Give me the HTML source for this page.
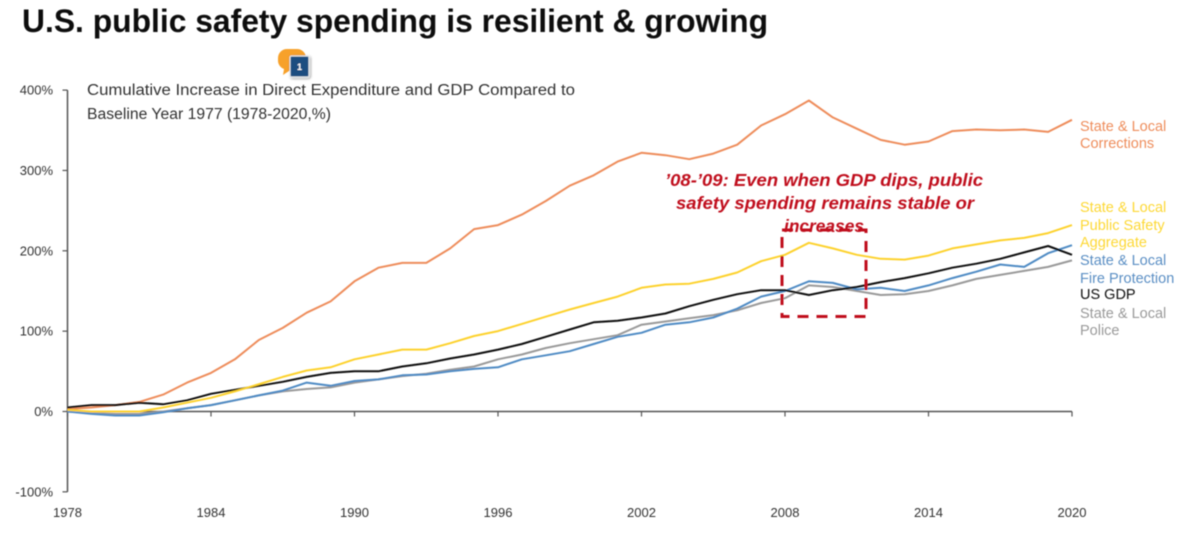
<!DOCTYPE html>
<html lang="en">
<head>
<meta charset="utf-8">
<title>U.S. public safety spending</title>
<style>
html,body{margin:0;padding:0;background:#fff;width:1202px;height:537px;overflow:hidden}
svg{display:block;font-family:"Liberation Sans",sans-serif}
</style>
</head>
<body>
<svg id="chart" xmlns="http://www.w3.org/2000/svg" width="1202" height="537" viewBox="0 0 1202 537">
  <defs>
    <filter id="soft" x="-5%" y="-5%" width="110%" height="110%"><feGaussianBlur stdDeviation="0.4"/></filter>
    <filter id="badge-shadow" x="-30%" y="-30%" width="170%" height="170%"><feDropShadow dx="1" dy="1" stdDeviation="1.2" flood-color="#000" flood-opacity="0.45"/></filter>
  </defs>
  <g filter="url(#soft)">
    <text x="22" y="32" font-size="32" font-weight="bold" fill="#0a0a0a" textLength="746" lengthAdjust="spacingAndGlyphs">U.S. public safety spending is resilient &amp; growing</text>
    <g>
      <path d="M287 49 h10 a9 9 0 0 1 9 9 v4 a9 9 0 0 1 -9 9 h-8 l-6 4 l1 -6 a9 9 0 0 1 -6 -9 v-2 a9 9 0 0 1 9 -9z" fill="#f7a12c"/>
      <rect x="290" y="56" width="19" height="21" rx="1.5" fill="#1a4e80" stroke="#dfe4e8" stroke-width="1.2" filter="url(#badge-shadow)"/>
      <text x="299.5" y="70" font-size="9" font-weight="bold" fill="#fff" text-anchor="middle">1</text>
    </g>
    <text x="87" y="95" font-size="15.5" fill="#333" textLength="488" lengthAdjust="spacingAndGlyphs">Cumulative Increase in Direct Expenditure and GDP Compared to</text>
    <text x="87" y="119" font-size="15.5" fill="#333" textLength="244" lengthAdjust="spacingAndGlyphs">Baseline Year 1977 (1978-2020,%)</text>
    <g id="axes"></g>
    <g id="series"></g>
    <g font-size="14.5">
      <text fill="#ee8d5c"><tspan x="1080" y="131">State &amp; Local</tspan><tspan x="1080" y="148">Corrections</tspan></text>
      <text fill="#fdd835"><tspan x="1080" y="212">State &amp; Local</tspan><tspan x="1080" y="230">Public Safety</tspan><tspan x="1080" y="247">Aggregate</tspan></text>
      <text fill="#5b8fc4"><tspan x="1080" y="265">State &amp; Local</tspan><tspan x="1080" y="283">Fire Protection</tspan></text>
      <text x="1080" y="299" fill="#111">US GDP</text>
      <text fill="#9a9a9a"><tspan x="1080" y="318">State &amp; Local</tspan><tspan x="1080" y="335">Police</tspan></text>
    </g>
    <g>
      <g font-size="17.5" font-weight="bold" font-style="italic" fill="#c00d1e" text-anchor="middle">
        <text x="824" y="186" textLength="318" lengthAdjust="spacingAndGlyphs">’08-’09: Even when GDP dips, public</text>
        <text x="825" y="209" textLength="298" lengthAdjust="spacingAndGlyphs">safety spending remains stable or</text>
        <text x="824" y="232" textLength="80" lengthAdjust="spacingAndGlyphs">increases</text>
      </g>
      <rect x="782" y="230" width="84" height="86.5" fill="none" stroke="#c00d1e" stroke-width="3" stroke-dasharray="11 8"/>
    </g>
  </g>
</svg>
<script>
const years = [1978,1979,1980,1981,1982,1983,1984,1985,1986,1987,1988,1989,1990,1991,1992,1993,1994,1995,1996,1997,1998,1999,2000,2001,2002,2003,2004,2005,2006,2007,2008,2009,2010,2011,2012,2013,2014,2015,2016,2017,2018,2019,2020];
const xTickYears = [1978,1984,1990,1996,2002,2008,2014,2020];
const yTickValues = [-100,0,100,200,300,400];
const corrections = [3,5,8,12,21,36,48,65,89,104,123,137,162,179,185,185,203,227,232,245,262,281,294,311,322,319,314,321,332,356,370,387,366,352,338,332,336,349,351,350,351,348,363];
const aggregate = [2,0,0,0,5,11,17,25,34,43,51,55,65,71,77,77,85,94,100,109,118,127,135,143,154,158,159,165,173,187,195,210,203,195,190,189,194,203,208,213,216,222,232];
const police = [0,-2,-3,-3,0,4,8,14,20,25,28,30,36,40,44,47,52,56,65,71,79,85,90,95,108,112,116,120,126,135,141,157,155,150,145,146,150,157,165,170,175,180,188];
const fire = [0,-3,-5,-5,-1,4,8,14,20,26,36,32,38,40,45,46,50,53,55,65,70,75,84,93,98,108,111,117,128,143,150,162,160,152,154,150,157,166,174,183,180,197,207];
const gdp = [5,8,8,11,9,14,22,27,32,37,43,48,50,50,56,60,66,71,77,84,93,102,111,113,117,122,131,139,146,151,151,145,151,155,161,166,172,179,184,190,198,206,195];

const NS = 'http://www.w3.org/2000/svg';
const xScale = function (year) { return 67.5 + (year - 1978) * (1072 - 67.5) / 42; };
const yScale = function (value) { return 411.5 - value * 0.8035; };
const axes = document.getElementById('axes');
const seriesGroup = document.getElementById('series');

function make(tag, parent, props) {
  const el = document.createElementNS(NS, tag);
  for (const key in props) { el.setAttribute(key, props[key]); }
  parent.appendChild(el);
  return el;
}

const yAxis = make('line', axes, {x1: 67.5, x2: 67.5, y1: yScale(400), y2: yScale(-100), stroke: '#555', 'stroke-width': 1.5});


const xAxis = make('line', axes, {x1: 67.5, x2: 1072, y1: yScale(0), y2: yScale(0), stroke: '#555', 'stroke-width': 1.5});



yTickValues.forEach(function (value) {
  const tick = make('line', axes, {x1: 62.5, x2: 67.5, y1: yScale(value), y2: yScale(value), stroke: '#555', 'stroke-width': 1.2});
  
  
  const label = make('text', axes, {x: 53, y: yScale(value) + 4.5, 'font-size': 13, fill: '#333', 'text-anchor': 'end'});
  
  
  label.textContent = value + '%';
});

xTickYears.forEach(function (year) {
  const tick = make('line', axes, {x1: xScale(year), x2: xScale(year), y1: yScale(0), y2: yScale(0) + 5, stroke: '#555', 'stroke-width': 1.2});
  
  
  const label = make('text', axes, {x: xScale(year), y: 517, 'font-size': 13, fill: '#333', 'text-anchor': 'middle'});
  
  
  label.textContent = year;
});

function drawLine(values, color, width) {
  const points = values.map(function (value, i) {
    return xScale(years[i]).toFixed(1) + ',' + yScale(value).toFixed(1);
  }).join(' ');
  return make('polyline', seriesGroup, {points: points, fill: 'none', stroke: color, 'stroke-width': width, 'stroke-linejoin': 'round'});
}

const correctionsLine = drawLine(corrections, '#ee8d5c', 2);


const policeLine = drawLine(police, '#9a9a9a', 2);


const fireLine = drawLine(fire, '#4f8bc4', 2);


const gdpLine = drawLine(gdp, '#111111', 2);


const aggregateLine = drawLine(aggregate, '#fdd22f', 2);


</script>
</body>
</html>
